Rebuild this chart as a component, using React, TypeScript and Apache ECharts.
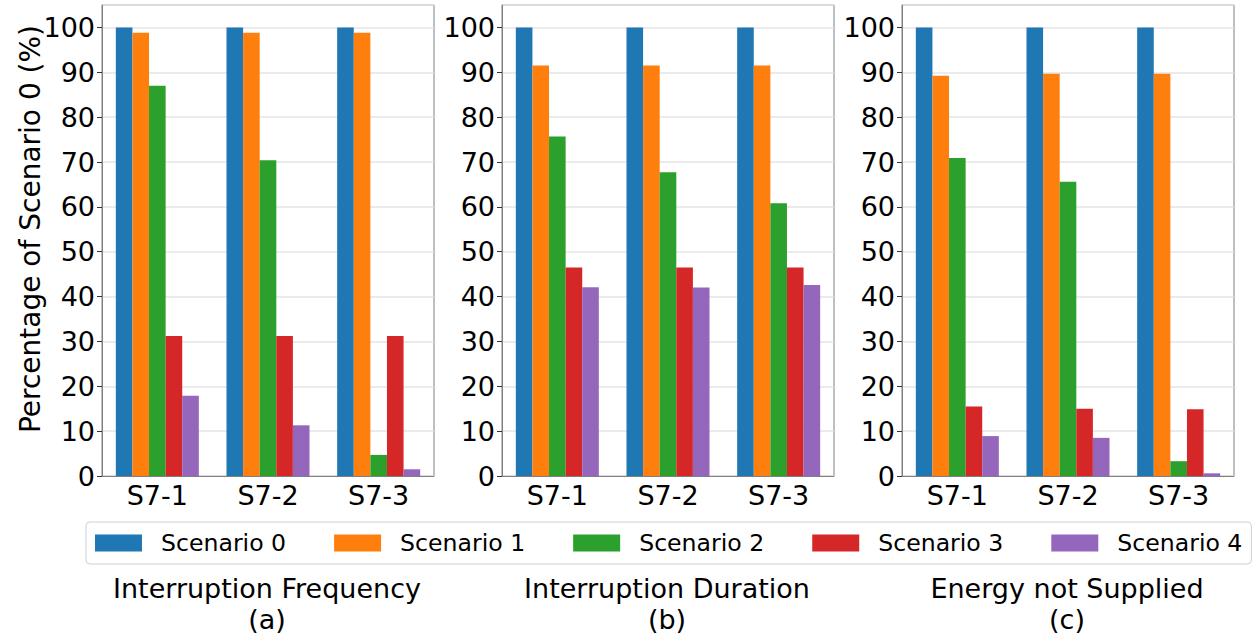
import React, { useEffect, useRef } from "react";
import * as echarts from "echarts";

const categories = ["S7-1", "S7-2", "S7-3"];
const scenarioNames = ["Scenario 0", "Scenario 1", "Scenario 2", "Scenario 3", "Scenario 4"];
const colors = ["#1f77b4", "#ff7f0e", "#2ca02c", "#d62728", "#9467bd"];
const yTicksMax = 105;

// values per scenario (rows) for S7-1, S7-2, S7-3
const frequencyValues = [
  [100, 100, 100],
  [98.8, 98.8, 98.8],
  [87.0, 70.4, 4.7],
  [31.2, 31.2, 31.2],
  [17.9, 11.3, 1.5],
];
const durationValues = [
  [100, 100, 100],
  [91.5, 91.5, 91.5],
  [75.7, 67.7, 60.8],
  [46.5, 46.5, 46.5],
  [42.1, 42.0, 42.6],
];
const energyValues = [
  [100, 100, 100],
  [89.2, 89.7, 89.7],
  [70.9, 65.6, 3.3],
  [15.5, 15.0, 14.9],
  [8.9, 8.5, 0.6],
];
const panelTitles = ["Interruption Frequency\n(a)", "Interruption Duration\n(b)", "Energy not Supplied\n(c)"];
const panels = [frequencyValues, durationValues, energyValues];

const FONT = "DejaVu Sans";
const FS = 27;
const gridLefts = [102, 502, 902];
const gridWidth = 332;

export default function App() {
  const ref = useRef<HTMLDivElement>(null);
  useEffect(() => {
    document.body.style.margin = "0";
    const chart = echarts.init(ref.current!, null, { renderer: "svg" });
    const grids = gridLefts.map((l) => ({
      left: l,
      top: 5,
      width: gridWidth,
      height: 471,
      show: true,
      borderColor: "#808080",
      borderWidth: 1,
      backgroundColor: "transparent",
    }));
    const xAxes = gridLefts.map((_, i) => ({
      type: "category",
      gridIndex: i,
      data: categories,
      axisLine: { lineStyle: { color: "#808080", width: 1 } },
      axisTick: { alignWithLabel: true, length: 5, lineStyle: { color: "#333" } },
      axisLabel: { fontFamily: FONT, fontSize: FS, color: "#000", margin: 6 },
    }));
    const yAxes = gridLefts.map((_, i) => ({
      type: "value",
      gridIndex: i,
      min: 0,
      max: yTicksMax,
      interval: 10,
      axisLine: { show: true, lineStyle: { color: "#808080", width: 1 } },
      axisTick: { show: true, length: 5, lineStyle: { color: "#333" } },
      axisLabel: { fontFamily: FONT, fontSize: FS, color: "#000", margin: 7, showMaxLabel: false },
      splitLine: { show: true, lineStyle: { color: "#e5e5e5", width: 1.5 } },
    }));
    const series: any[] = [];
    panels.forEach((vals, p) => {
      vals.forEach((row, s) => {
        series.push({
          type: "bar",
          name: scenarioNames[s],
          xAxisIndex: p,
          yAxisIndex: p,
          data: row,
          barWidth: 16.6,
          barGap: "0%",
          itemStyle: { color: colors[s] },
        });
      });
    });
    chart.setOption({
      animation: false,
      color: colors,
      grid: grids,
      xAxis: xAxes,
      yAxis: yAxes,
      series,
      legend: {
        data: scenarioNames,
        left: 86,
        top: 522,
        itemWidth: 47,
        itemHeight: 17,
        itemGap: 48,
        icon: "rect",
        padding: [7, 9, 7, 9],
        borderColor: "#d0d0d0",
        borderWidth: 1,
        borderRadius: 4,
        textStyle: { fontFamily: FONT, fontSize: 23.6, lineHeight: 28, color: "#000", padding: [0, 0, 0, 14] },
      },
      title: panelTitles.map((t, i) => ({
        text: t,
        left: gridLefts[i] + gridWidth / 2 - 6,
        top: 568,
        textAlign: "center",
        textStyle: { fontFamily: FONT, fontSize: FS, fontWeight: "normal", color: "#000", lineHeight: 31 },
      })),
      graphic: [
        {
          type: "text",
          x: 30,
          y: 229,
          rotation: Math.PI / 2,
          style: {
            text: "Percentage of Scenario 0 (%)",
            fontFamily: FONT,
            fontSize: 28,
            fill: "#000",
            textAlign: "center",
            textVerticalAlign: "middle",
          },
        },
      ],
    });
    return () => chart.dispose();
  }, []);
  return <div ref={ref} style={{ width: 1253, height: 639 }} />;
}
